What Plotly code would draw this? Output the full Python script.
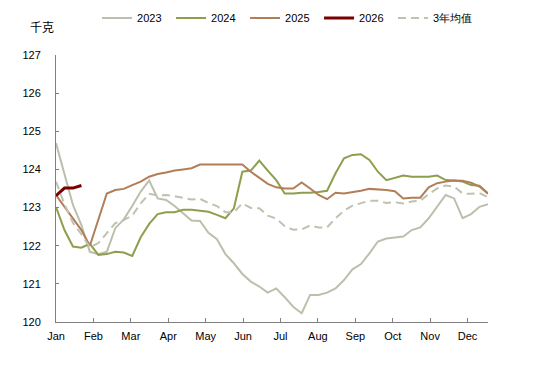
import plotly.graph_objects as go

weeks = list(range(52))
month_labels = ["Jan", "Feb", "Mar", "Apr", "May", "Jun", "Jul", "Aug", "Sep", "Oct", "Nov", "Dec"]
weeks_per_month = 4.417

y2023 = [124.69, 123.85, 123.07, 122.54, 121.84, 121.78, 121.84, 122.46, 122.69, 123.04,
         123.42, 123.71, 123.24, 123.20, 123.04, 122.85, 122.66, 122.65, 122.34, 122.17,
         121.78, 121.54, 121.26, 121.06, 120.93, 120.77, 120.88, 120.65, 120.40, 120.23,
         120.71, 120.71, 120.77, 120.88, 121.10, 121.38, 121.52, 121.80, 122.11, 122.19,
         122.21, 122.24, 122.41, 122.48, 122.72, 123.02, 123.33, 123.24, 122.72, 122.83,
         123.02, 123.09]
y2024 = [123.01, 122.41, 121.98, 121.95, 122.05, 121.76, 121.78, 121.84, 121.82, 121.73,
         122.22, 122.57, 122.83, 122.88, 122.88, 122.94, 122.94, 122.91, 122.89, 122.81,
         122.72, 122.98, 123.94, 123.97, 124.23, 123.97, 123.72, 123.37, 123.37, 123.39,
         123.39, 123.41, 123.44, 123.90, 124.29, 124.38, 124.40, 124.25, 123.94, 123.72,
         123.78, 123.84, 123.81, 123.81, 123.81, 123.84, 123.72, 123.71, 123.68, 123.59,
         123.57, 123.37]
y2025 = [123.33, 123.02, 122.74, 122.41, 122.00, 122.67, 123.37, 123.46, 123.49, 123.59,
         123.68, 123.81, 123.88, 123.92, 123.97, 124.00, 124.03, 124.13, 124.13, 124.13,
         124.13, 124.13, 124.13, 123.94, 123.77, 123.62, 123.53, 123.50, 123.50, 123.66,
         123.50, 123.33, 123.22, 123.39, 123.37, 123.40, 123.44, 123.49, 123.48, 123.46,
         123.43, 123.24, 123.26, 123.26, 123.53, 123.64, 123.68, 123.71, 123.70, 123.65,
         123.55, 123.36]
y2026 = [123.31, 123.51, 123.51, 123.58]
y_avg = [123.68, 123.09, 122.60, 122.30, 121.96, 122.07, 122.33, 122.59, 122.67, 122.79,
         123.11, 123.36, 123.32, 123.33, 123.30, 123.26, 123.21, 123.23, 123.12, 123.04,
         122.88, 122.88, 123.11, 122.99, 122.98, 122.79, 122.71, 122.51, 122.42, 122.43,
         122.53, 122.48, 122.48, 122.72, 122.92, 123.05, 123.12, 123.18, 123.18, 123.12,
         123.14, 123.11, 123.16, 123.18, 123.35, 123.50, 123.58, 123.55, 123.37, 123.36,
         123.38, 123.27]
y_ticks = [120, 121, 122, 123, 124, 125, 126, 127]

FONT = "Arial, Liberation Sans, sans-serif"

fig = go.Figure()
fig.add_trace(go.Scatter(x=weeks, y=y2023, mode="lines", name="2023",
                         line=dict(color="#BDBFAD", width=2)))
fig.add_trace(go.Scatter(x=weeks, y=y2024, mode="lines", name="2024",
                         line=dict(color="#8C9F4C", width=2)))
fig.add_trace(go.Scatter(x=weeks, y=y2025, mode="lines", name="2025",
                         line=dict(color="#B27E58", width=2)))
fig.add_trace(go.Scatter(x=weeks[:len(y2026)], y=y2026, mode="lines", name="2026",
                         line=dict(color="#7A0000", width=3)))
fig.add_trace(go.Scatter(x=weeks, y=y_avg, mode="lines", name="3年均值", legend="legend2",
                         line=dict(color="#BFC1B1", width=2, dash="8px,5px")))

legend_common = dict(orientation="h", yanchor="middle", y=1.139, xanchor="left",
                     font=dict(family=FONT, size=11, color="#000000"),
                     bgcolor="rgba(0,0,0,0)")

fig.update_layout(
    width=532, height=357,
    margin=dict(l=48, r=52, t=47, b=43, autoexpand=False),
    paper_bgcolor="white", plot_bgcolor="white",
    font=dict(family=FONT, size=11, color="#000000"),
    showlegend=True,
    legend=dict(x=0.095, entrywidth=29, **legend_common),
    legend2=dict(x=0.780, **legend_common),
    xaxis=dict(range=[0, 51], tickmode="array",
               tickvals=[k * weeks_per_month for k in range(len(month_labels))],
               ticktext=month_labels, ticks="inside", ticklen=4, tickcolor="#808080",
               showline=True, linecolor="#808080", linewidth=1, showgrid=False,
               zeroline=False, ticklabelstandoff=4),
    yaxis=dict(range=[120, 127], tickmode="array", tickvals=y_ticks,
               ticks="inside", ticklen=3, tickcolor="#808080",
               showline=True, linecolor="#808080", linewidth=1, showgrid=False,
               zeroline=False, ticklabelstandoff=12),
    annotations=[dict(text="千克", xref="paper", yref="paper", x=-0.032, y=1.105,
                      xanchor="center", yanchor="middle", showarrow=False,
                      font=dict(family="Noto Sans CJK SC", size=12, color="#000000"))],
)

fig.write_html("out.html")
